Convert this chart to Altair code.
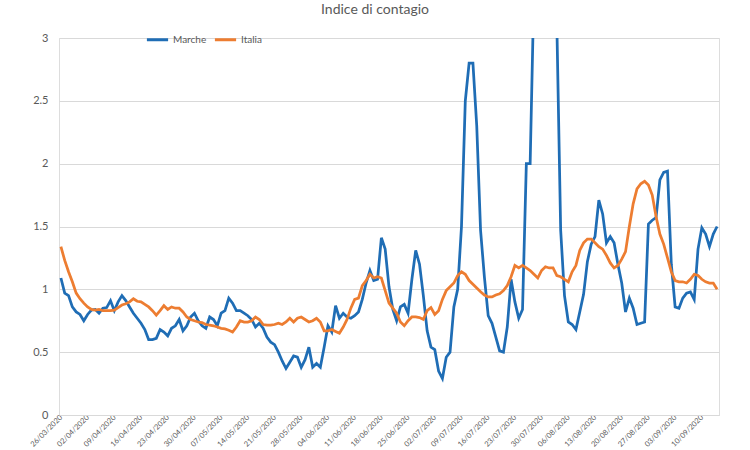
import altair as alt
import pandas as pd

# Daily contagion index, one value per day starting 26/03/2020
start_date = "2020-03-26"

marche = [
    1.09, 0.97, 0.95, 0.86, 0.82, 0.80, 0.75, 0.80, 0.835, 0.84,
    0.81, 0.85, 0.855, 0.91, 0.83, 0.90, 0.95, 0.91, 0.86, 0.81,
    0.77, 0.73, 0.68, 0.60, 0.60, 0.61, 0.68, 0.66, 0.63, 0.69,
    0.71, 0.76, 0.67, 0.71, 0.78, 0.81, 0.75, 0.71, 0.69, 0.78,
    0.76, 0.71, 0.81, 0.83, 0.93, 0.89, 0.83, 0.83, 0.81, 0.79,
    0.76, 0.70, 0.73, 0.69, 0.62, 0.58, 0.56, 0.50, 0.43, 0.37,
    0.42, 0.47, 0.46, 0.38, 0.44, 0.54, 0.38, 0.41, 0.38, 0.54,
    0.71, 0.66, 0.87, 0.77, 0.81, 0.78, 0.77, 0.79, 0.82, 0.92,
    1.05, 1.15, 1.07, 1.08, 1.41, 1.32, 1.02, 0.84, 0.75, 0.86,
    0.88, 0.81, 1.08, 1.31, 1.20, 0.95, 0.67, 0.54, 0.52, 0.35,
    0.29, 0.46, 0.50, 0.86, 1.00, 1.50, 2.50, 2.80, 2.80, 2.30,
    1.47, 1.10, 0.79, 0.73, 0.62, 0.51, 0.50, 0.70, 1.08, 0.90,
    0.77, 0.84, 2.00, 2.00, 3.40, 3.90, 4.30, 4.10, 3.70, 3.30,
    3.10, 1.47, 0.95, 0.74, 0.72, 0.68, 0.82, 0.96, 1.22, 1.36,
    1.42, 1.71, 1.60, 1.37, 1.42, 1.37, 1.20, 1.05, 0.82, 0.93,
    0.85, 0.72, 0.73, 0.74, 1.52, 1.55, 1.57, 1.87, 1.93, 1.94,
    1.20, 0.86, 0.85, 0.93, 0.97, 0.98, 0.92, 1.32, 1.49, 1.44,
    1.34, 1.44, 1.50,
]

italia = [
    1.34, 1.23, 1.14, 1.06, 0.97, 0.925, 0.89, 0.86, 0.84, 0.835,
    0.84, 0.83, 0.83, 0.83, 0.835, 0.855, 0.875, 0.885, 0.90, 0.925,
    0.905, 0.90, 0.88, 0.86, 0.83, 0.795, 0.83, 0.87, 0.84, 0.86,
    0.85, 0.85, 0.82, 0.78, 0.76, 0.75, 0.74, 0.735, 0.72, 0.715,
    0.71, 0.70, 0.69, 0.685, 0.675, 0.66, 0.70, 0.75, 0.74, 0.74,
    0.75, 0.78, 0.76, 0.72, 0.715, 0.715, 0.72, 0.73, 0.72, 0.74,
    0.77, 0.74, 0.77, 0.78, 0.76, 0.74, 0.75, 0.77, 0.74, 0.67,
    0.67, 0.68, 0.665, 0.65, 0.70, 0.76, 0.85, 0.92, 0.93, 1.03,
    1.07, 1.12, 1.09, 1.10, 1.09, 0.99, 0.89, 0.85, 0.81, 0.74,
    0.71, 0.75, 0.78, 0.78, 0.775, 0.76, 0.83, 0.855, 0.80, 0.83,
    0.92, 0.99, 1.02, 1.05, 1.11, 1.14, 1.12, 1.07, 1.04, 1.01,
    0.98, 0.955, 0.94, 0.94, 0.955, 0.965, 0.99, 1.03, 1.10, 1.19,
    1.17, 1.19, 1.17, 1.15, 1.12, 1.09, 1.15, 1.18, 1.17, 1.17,
    1.11, 1.10, 1.08, 1.06, 1.14, 1.19, 1.31, 1.37, 1.40, 1.40,
    1.37, 1.34, 1.32, 1.27, 1.21, 1.17, 1.19, 1.24, 1.30, 1.50,
    1.68, 1.80, 1.84, 1.86, 1.83, 1.75, 1.58, 1.44, 1.36, 1.25,
    1.14, 1.07, 1.06, 1.06, 1.05, 1.08, 1.12, 1.11, 1.08, 1.06,
    1.05, 1.05, 1.00,
]

# Weekly date labels on the horizontal axis
tick_labels = [
    "26/03/2020", "02/04/2020", "09/04/2020", "16/04/2020", "23/04/2020",
    "30/04/2020", "07/05/2020", "14/05/2020", "21/05/2020", "28/05/2020",
    "04/06/2020", "11/06/2020", "18/06/2020", "25/06/2020", "02/07/2020",
    "09/07/2020", "16/07/2020", "23/07/2020", "30/07/2020", "06/08/2020",
    "13/08/2020", "20/08/2020", "27/08/2020", "03/09/2020", "10/09/2020",
]

y_ticks = [0, 0.5, 1, 1.5, 2, 2.5, 3]

chart_title = "Indice di contagio"
series_names = ["Marche", "Italia"]
series_colors = ["#1f6db5", "#ed7d31"]

dates = pd.date_range(start_date, periods=len(marche), freq="D")
df = pd.concat([
    pd.DataFrame({"data": dates.strftime("%Y-%m-%d"), "valore": marche, "serie": "Marche"}),
    pd.DataFrame({"data": dates.strftime("%Y-%m-%d"), "valore": italia, "serie": "Italia"}),
])


def utc_dt(label, hours=0):
    d, m, y = (int(p) for p in label.split("/"))
    return alt.DateTime(year=y, month=m, date=d, hours=hours, utc=True)


tick_values = [utc_dt(t) for t in tick_labels]
domain = [alt.DateTime(year=2020, month=3, date=25, hours=12, utc=True),
          alt.DateTime(year=2020, month=9, date=14, hours=12, utc=True)]

FONT = "Lato"
GREY = "#595959"
GRID = "#d9d9d9"

x_enc = alt.X(
    "data:T",
    scale=alt.Scale(type="utc", domain=domain),
    axis=alt.Axis(
        values=tick_values, format="%d/%m/%Y", title=None, labelAngle=-45,
        labelAlign="right", labelBaseline="middle", labelPadding=1,
        labelFontSize=7.5, labelColor=GREY, labelFont=FONT, ticks=False,
        grid=False, domainColor=GRID, labelOverlap=False, labelFlush=False,
    ),
)
y_enc = alt.Y(
    "valore:Q",
    scale=alt.Scale(domain=[0, 3], nice=False, zero=True),
    axis=alt.Axis(
        values=y_ticks, format="~g", title=None, labelFontSize=11,
        labelColor=GREY, labelFont=FONT, ticks=False, domain=False,
        gridColor=GRID, gridWidth=1, labelPadding=11,
    ),
)
color_enc = alt.Color(
    "serie:N",
    scale=alt.Scale(domain=series_names, range=series_colors),
    legend=alt.Legend(
        title=None, orient="none", legendX=86, legendY=-11,
        direction="horizontal", symbolType="stroke", symbolStrokeWidth=3,
        symbolSize=450, labelFontSize=10, labelColor=GREY, labelFont=FONT,
        columnPadding=1, labelOffset=3,
    ),
)

base = alt.Chart(df).encode(x=x_enc, y=y_enc, color=color_enc)

lines = [
    base.transform_filter(alt.datum.serie == name).mark_line(strokeWidth=2.75, clip=True)
    for name in series_names
]

# Chart title drawn as a text mark just above the plot area
title_mark = alt.Chart(pd.DataFrame({"t": [chart_title]})).mark_text(
    font=FONT, fontSize=14, color=GREY, align="center", baseline="alphabetic",
).encode(text="t:N", x=alt.value(316), y=alt.value(-24))

chart = alt.layer(*lines, title_mark).properties(
    width=660,
    height=377,
    autosize=alt.AutoSizeParams(type="none"),
    padding={"left": 59, "top": 38, "right": 31, "bottom": 35},
).configure_view(stroke=None).configure(background="white")

chart.save("out.html", embed_options={"renderer": "svg", "actions": False})
